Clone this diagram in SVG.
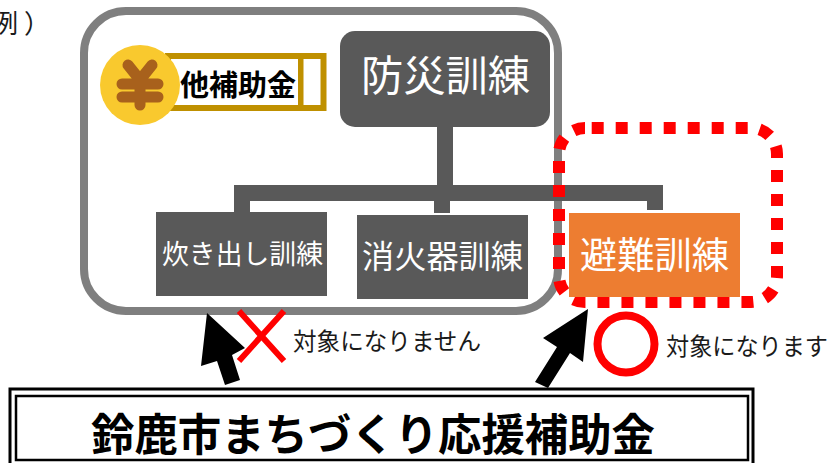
<svg xmlns="http://www.w3.org/2000/svg" width="829" height="463" viewBox="0 0 829 463">
<style>
text{font-family:"Noto Sans CJK JP","Noto Sans",sans-serif}
.w{fill:#fff}
.box{fill:#595959}
.k{fill:#1a1a1a}
.c{fill:#595959}
</style>
<rect width="829" height="463" fill="#fff"/>
<text x="-8 24" y="33" font-size="26" class="k">例）</text>
<g id="frame"><rect x="84" y="11" width="474" height="300" rx="42" fill="none" stroke="#7f7f7f" stroke-width="8"/></g>
<g id="connectors" class="c">
<rect x="437" y="127" width="16" height="60"/>
<path d="M234 185H663V210H647V201H450V213H434V201H250V212H234Z"/>
</g>
<g id="subsidy-tag">
<rect x="168" y="56" width="155.500" height="52" fill="#fff" stroke="#bf9000" stroke-width="6"/>
<rect x="298" y="56" width="5.500" height="52" fill="#bf9000"/>
<circle cx="140" cy="85" r="40" fill="#f9c92e"/>
<path d="M128 65L140 80L152 65M122 84H158M122 97H158M140 80V105" fill="none" stroke="#a8611c" stroke-width="11" stroke-linecap="round" stroke-linejoin="round"/>
<text x="180" y="96" font-size="29" font-weight="700" fill="#000" textLength="116" lengthAdjust="spacingAndGlyphs">他補助金</text>
</g>
<g id="top-node"><rect class="box" x="340" y="31" width="210" height="96" rx="15"/><text class="w" x="361" y="91" font-size="42" textLength="169" lengthAdjust="spacingAndGlyphs">防災訓練</text></g>
<g id="node-1"><rect class="box" x="156" y="212" width="171" height="84"/><text class="w" x="162" y="264" font-size="27" textLength="161" lengthAdjust="spacingAndGlyphs">炊き出し訓練</text></g>
<g id="node-2"><rect class="box" x="357" y="215" width="171" height="84"/><text class="w" x="362" y="268" font-size="32" textLength="161" lengthAdjust="spacingAndGlyphs">消火器訓練</text></g>
<g id="highlight"><rect x="559" y="128" width="218" height="174" rx="26" fill="none" stroke="#f00" stroke-width="12" stroke-dasharray="12 12" stroke-dashoffset="-6.700"/></g>
<g id="node-3"><rect x="569" y="213" width="171" height="84" fill="#ed7d31"/><text class="w" x="580" y="269" font-size="37" textLength="149" lengthAdjust="spacingAndGlyphs">避難訓練</text></g>
<g id="mark-no">
<path d="M239 311L284 361M284 311L239 361" stroke="#f00" stroke-width="6" fill="none"/>
<text x="293" y="350" font-size="24" class="k" textLength="188" lengthAdjust="spacingAndGlyphs">対象になりません</text>
</g>
<g id="mark-yes">
<circle cx="626" cy="344" r="28.500" fill="none" stroke="#f00" stroke-width="8"/>
<text x="666" y="355" font-size="24" class="k" textLength="162" lengthAdjust="spacingAndGlyphs">対象になります</text>
</g>
<g id="arrows" fill="#000">
<path d="M207 313L245 348L232 355L240 380L225 385L217 361L201 366Z"/>
<path d="M588 309L583 362L570 353L548 388L535 382L557 347L543 338Z"/>
</g>
<g id="program">
<rect x="10" y="389" width="743" height="90" fill="#fff" stroke="#000" stroke-width="3"/>
<rect x="16" y="396" width="732" height="64" fill="#fff" stroke="#000" stroke-width="2.500"/>
<text x="91" y="451" font-size="44" font-weight="700" fill="#000" textLength="564" lengthAdjust="spacingAndGlyphs">鈴鹿市まちづくり応援補助金</text>
</g>
</svg>
